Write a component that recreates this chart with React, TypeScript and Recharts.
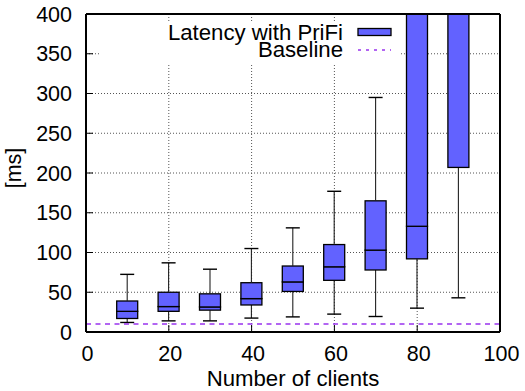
import React from 'react';
import {
    ComposedChart,
    Bar,
    XAxis,
    YAxis,
    CartesianGrid,
    ReferenceLine,
    Legend,
} from 'recharts';

// Box plot values (ms)
const clients = [10, 20, 30, 40, 50, 60, 70, 80, 90];
const whiskerLow = [12, 14, 14, 17.5, 19, 22.5, 19.5, 30, 43];
const quartile1 = [17, 26, 27.5, 34, 51, 65, 78, 92, 207];
const medians = [26, 32, 31.5, 42, 63, 82, 103, 133, 450];
const quartile3 = [39, 50, 48, 62, 83, 110, 165, 480, 620];
const whiskerHigh = [72.5, 87, 79, 105, 131, 177, 295, 650, 800];
const baselineMs = 10;

const xTicks = [0, 20, 40, 60, 80, 100];
const yTicks = [0, 50, 100, 150, 200, 250, 300, 350, 400];

const FONT = '"Liberation Sans", Arial, Helvetica, sans-serif';
const BOX_FILL = '#6262ff';
const BASE_COLOR = '#9933ee';

// stacked segments: invisible base, lower whisker, lower box, upper box, upper whisker
const chartData = clients.map((c, i) => ({
    x: c,
    base: whiskerLow[i],
    lw: quartile1[i] - whiskerLow[i],
    b1: medians[i] - quartile1[i],
    b2: quartile3[i] - medians[i],
    uw: whiskerHigh[i] - quartile3[i],
}));

const Empty = () => null;

const LowWhisker = (props: any) => {
    const { x, y, width, height } = props;
    const cx = x + width / 2;
    return (
        <g>
            <line x1={cx} x2={cx} y1={y} y2={y + height} stroke="#222" strokeWidth={1.1} />
            <line x1={cx - 7} x2={cx + 7} y1={y + height} y2={y + height} stroke="#000" strokeWidth={1.4} />
        </g>
    );
};

const HighWhisker = (props: any) => {
    const { x, y, width, height } = props;
    const cx = x + width / 2;
    return (
        <g>
            <line x1={cx} x2={cx} y1={y} y2={y + height} stroke="#222" strokeWidth={1.1} />
            <line x1={cx - 7} x2={cx + 7} y1={y} y2={y} stroke="#000" strokeWidth={1.4} />
        </g>
    );
};

const BoxPart = (props: any) => {
    const { x, y, width, height } = props;
    return <rect x={x} y={y} width={width} height={height} fill={BOX_FILL} stroke="#000" strokeWidth={1.3} />;
};

const YTick = ({ x, y, payload }: any) => (
    <g>
        <line x1={x} x2={x + 7} y1={y} y2={y} stroke="#000" strokeWidth={1} />
        <text x={x - 14} y={y + 7.5} textAnchor="end" fontSize={21.5} fontFamily={FONT} fill="#000">
            {payload.value}
        </text>
    </g>
);

const XTick = ({ x, y, payload }: any) => (
    <g>
        <line x1={x} x2={x} y1={y} y2={y - 7} stroke="#000" strokeWidth={1} />
        <text x={x + 1.5} y={y + 28.5} textAnchor="middle" fontSize={21.5} fontFamily={FONT} fill="#000">
            {payload.value}
        </text>
    </g>
);

const YLabel = () => (
    <text
        x={21}
        y={168}
        transform="rotate(-90, 21, 168)"
        textAnchor="middle"
        fontSize={21.5}
        fontFamily={FONT}
        fill="#000"
    >
        [ms]
    </text>
);

const XLabel = () => (
    <text x={293} y={386} textAnchor="middle" fontSize={22.2} fontFamily={FONT} fill="#000">
        Number of clients
    </text>
);

// gnuplot style key with white background
const renderLegend = () => (
    <svg width={300} height={42} style={{ display: 'block', background: '#fff', overflow: 'visible' }}>
        <text x={243} y={17.5} textAnchor="end" fontSize={22.2} fontFamily={FONT} fill="#000">
            Latency with PriFi
        </text>
        <rect x={258} y={6.5} width={33} height={7} fill={BOX_FILL} stroke="#000" strokeWidth={1.3} />
        <text x={243} y={34.5} textAnchor="end" fontSize={22.2} fontFamily={FONT} fill="#000">
            Baseline
        </text>
        <line x1={258} x2={291} y1={28} y2={28} stroke={BASE_COLOR} strokeWidth={1.5} strokeDasharray="3 5" />
    </svg>
);

export default function App() {
    return (
        <div style={{ position: 'absolute', left: 0, top: 0, background: '#fff' }}>
            <ComposedChart
                width={525}
                height={391}
                data={chartData}
                margin={{ top: 14, right: 25, bottom: 0, left: 0 }}
                style={{ fontFamily: FONT }}
            >
                <CartesianGrid
                    stroke="#555"
                    strokeDasharray="1 2"
                    strokeWidth={1}
                    horizontalValues={yTicks}
                    verticalValues={xTicks}
                />
                <XAxis
                    dataKey="x"
                    type="number"
                    domain={[0, 100]}
                    ticks={xTicks}
                    allowDataOverflow
                    height={59}
                    tickSize={0}
                    tickMargin={0}
                    tick={<XTick />}
                    axisLine={{ stroke: '#000', strokeWidth: 2 }}
                    label={<XLabel />}
                />
                <YAxis
                    type="number"
                    domain={[0, 400]}
                    ticks={yTicks}
                    allowDataOverflow
                    width={86}
                    tickSize={0}
                    tickMargin={0}
                    tick={<YTick />}
                    axisLine={{ stroke: '#000', strokeWidth: 2 }}
                    label={<YLabel />}
                />
                <Legend
                    layout="horizontal"
                    verticalAlign="middle"
                    align="center"
                    content={renderLegend}
                    wrapperStyle={{ position: 'absolute', left: 100, top: 22, width: 300, height: 42 }}
                />
                <ReferenceLine y={baselineMs} stroke={BASE_COLOR} strokeWidth={1.5} strokeDasharray="5 4.5" />
                <Bar dataKey="base" stackId="box" barSize={21} shape={<Empty />} isAnimationActive={false} />
                <Bar dataKey="lw" stackId="box" barSize={21} shape={<LowWhisker />} isAnimationActive={false} />
                <Bar dataKey="b1" stackId="box" barSize={21} shape={<BoxPart />} isAnimationActive={false} />
                <Bar dataKey="b2" stackId="box" barSize={21} shape={<BoxPart />} isAnimationActive={false} />
                <Bar dataKey="uw" stackId="box" barSize={21} shape={<HighWhisker />} isAnimationActive={false} />
                <ReferenceLine y={400} stroke="#000" strokeWidth={2} />
                <ReferenceLine x={100} stroke="#000" strokeWidth={2} />
            </ComposedChart>
        </div>
    );
}
